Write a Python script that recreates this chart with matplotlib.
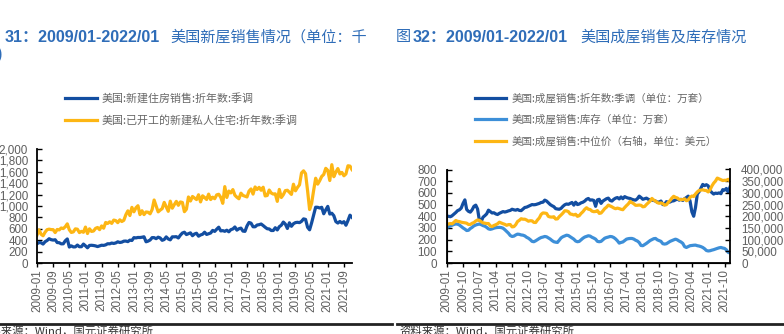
import numpy as np
import pandas as pd
import matplotlib
matplotlib.use("Agg")
import matplotlib.pyplot as plt
from matplotlib.ticker import FuncFormatter, MultipleLocator

plt.rcParams['font.family'] = ['Liberation Sans', 'Noto Sans CJK SC', 'DejaVu Sans']

# monthly, 2009-01 .. 2022-01
months = pd.date_range('2009-01-01', periods=157, freq='MS').strftime('%Y-%m')

# 美国新建住房销售 (千套, 折年数, 季调)
new_home_sales = [
    338, 358, 356, 332, 373, 395, 426, 409, 402, 408, 359, 356,
    336, 337, 389, 422, 280, 300, 282, 283, 315, 285, 286, 332,
    301, 267, 308, 311, 307, 300, 288, 300, 312, 309, 318, 338,
    336, 350, 343, 352, 372, 360, 366, 383, 385, 375, 401, 395,
    445, 440, 448, 447, 452, 460, 372, 384, 403, 445, 445, 427,
    453, 439, 398, 412, 458, 422, 406, 459, 459, 462, 439, 488,
    526, 540, 499, 513, 529, 479, 509, 522, 470, 492, 504, 540,
    501, 514, 526, 572, 554, 593, 628, 563, 568, 556, 575, 547,
    585, 597, 632, 577, 601, 612, 560, 555, 650, 711, 699, 636,
    635, 666, 672, 684, 657, 627, 601, 597, 570, 570, 619, 580,
    637, 663, 718, 682, 606, 706, 644, 689, 709, 714, 708, 731,
    774, 765, 627, 582, 704, 839, 979, 977, 965, 977, 864, 932,
    993, 859, 873, 830, 726, 701, 729, 702, 725, 662, 745, 839,
    801,
]

# 美国已开工的新建私人住宅 (千套, 折年数, 季调)
housing_starts = [
    490, 582, 505, 478, 540, 585, 594, 586, 585, 534, 588, 581,
    614, 604, 636, 687, 583, 536, 546, 599, 593, 534, 555, 539,
    630, 517, 600, 554, 561, 608, 623, 585, 650, 610, 711, 694,
    723, 695, 753, 744, 708, 757, 728, 749, 847, 915, 833, 976,
    898, 969, 1005, 849, 917, 849, 895, 891, 863, 936, 1105, 1003,
    897, 928, 954, 1063, 985, 907, 1085, 962, 1024, 1081, 1012, 1071,
    1062, 900, 944, 1158, 1087, 1167, 1140, 1113, 1197, 1072, 1179, 1149,
    1114, 1208, 1113, 1155, 1128, 1195, 1206, 1151, 1047, 1340, 1150, 1262,
    1230, 1288, 1189, 1154, 1127, 1225, 1185, 1172, 1159, 1261, 1299, 1209,
    1334, 1290, 1327, 1276, 1329, 1177, 1184, 1280, 1228, 1209, 1214, 1081,
    1291, 1149, 1199, 1270, 1276, 1241, 1203, 1382, 1267, 1326, 1371, 1580,
    1617, 1567, 1269, 938, 1046, 1273, 1487, 1383, 1444, 1519, 1553, 1661,
    1625, 1447, 1725, 1514, 1594, 1657, 1562, 1589, 1530, 1563, 1706, 1700,
    1638,
]

# 美国成屋销售 (万套, 折年数, 季调)
existing_sales = [
    397, 400, 396, 405, 418, 432, 448, 455, 470, 510, 540, 458,
    442, 435, 455, 485, 495, 462, 365, 355, 392, 405, 420, 452,
    440, 428, 430, 420, 415, 425, 432, 440, 436, 440, 446, 450,
    460, 455, 452, 458, 450, 448, 462, 475, 478, 485, 492, 500,
    498, 500, 505, 510, 518, 520, 538, 530, 515, 500, 490, 482,
    465, 462, 460, 468, 485, 498, 505, 502, 510, 518, 495, 520,
    500, 505, 515, 520, 530, 545, 552, 538, 540, 535, 485, 540,
    545, 510, 530, 540, 550, 555, 535, 530, 545, 555, 560, 548,
    565, 550, 568, 560, 555, 552, 545, 540, 538, 550, 572, 560,
    545, 550, 555, 545, 540, 538, 535, 530, 520, 522, 530, 500,
    500, 525, 520, 522, 530, 532, 540, 548, 538, 545, 535, 550,
    560, 572, 530, 438, 400, 475, 590, 610, 640, 672, 662, 670,
    660, 620, 603, 590, 598, 595, 600, 593, 628, 623, 638, 608,
    650,
]

# 美国成屋库存 (万套)
inventory = [
    303, 310, 318, 325, 330, 334, 332, 325, 312, 300, 290, 278,
    280, 295, 305, 318, 325, 330, 333, 328, 320, 315, 305, 292,
    288, 292, 298, 302, 304, 305, 303, 298, 285, 270, 255, 235,
    227, 230, 240, 247, 245, 240, 238, 232, 220, 212, 200, 185,
    182, 190, 200, 210, 218, 222, 227, 224, 215, 205, 192, 182,
    178, 176, 195, 215, 225, 232, 238, 235, 225, 215, 204, 188,
    182, 185, 198, 212, 222, 228, 233, 230, 220, 213, 204, 185,
    182, 185, 198, 212, 218, 222, 227, 225, 218, 206, 190, 170,
    176, 180, 192, 204, 208, 210, 210, 205, 195, 188, 175, 150,
    148, 158, 168, 180, 192, 200, 208, 210, 198, 192, 185, 165,
    162, 165, 175, 185, 192, 198, 204, 198, 188, 180, 168, 140,
    133, 140, 148, 150, 152, 153, 148, 145, 140, 133, 122, 107,
    103, 105, 110, 114, 120, 125, 130, 133, 128, 125, 113, 91,
    86,
]

# 美国成屋销售中位价 (美元)
median_price = [
    164800, 167100, 169000, 167900, 174200, 181800, 178300, 177200, 174600, 173000, 171900, 170300,
    164700, 165000, 170000, 173100, 179600, 184100, 182600, 176800, 171800, 170200, 168800, 168800,
    158800, 156100, 160500, 163700, 167700, 174600, 171100, 168100, 165400, 161300, 164200, 164500,
    154600, 155600, 163800, 177400, 182600, 189400, 187300, 187400, 183900, 178800, 180800, 180300,
    173600, 173300, 184300, 192800, 208000, 214200, 213500, 212100, 199200, 196900, 196300, 197900,
    188100, 188900, 198500, 205700, 213600, 223300, 222900, 219800, 209700, 208300, 205300, 208500,
    199600, 202600, 212100, 219400, 229400, 236400, 230200, 228700, 221900, 219600, 220300, 224100,
    212300, 213800, 222700, 232500, 238900, 247700, 244100, 240200, 235500, 232200, 234900, 232600,
    229800, 228000, 237300, 245500, 252800, 263800, 258300, 253500, 246800, 247000, 248000, 246800,
    240500, 241700, 250400, 257900, 264800, 276200, 269000, 264800, 258100, 255400, 257200, 253600,
    247500, 249500, 259400, 267300, 277700, 285400, 280800, 278200, 272100, 270900, 271300, 274500,
    266300, 270100, 280700, 286500, 284400, 295300, 304100, 310600, 311800, 313000, 310800, 309800,
    303900, 313000, 329100, 341600, 350300, 363300, 359900, 356700, 352800, 353900, 353900, 358000,
    350300,
]

DARK_BLUE = '#134ea1'
LIGHT_BLUE = '#3d8fd8'
YELLOW = '#fdb614'
TICK_GRAY = '#5f5f5f'
TITLE_BLUE = '#2f6db8'
CJK = ['Noto Sans CJK SC', 'DejaVu Sans']

W, H = 784, 334
fig = plt.figure(figsize=(W / 100, H / 100), dpi=100)


def box(x0, y_top, x1, y_bottom):
    return [x0 / W, 1 - y_bottom / H, (x1 - x0) / W, (y_bottom - y_top) / H]


def fy(y):
    return 1 - y / H


comma = FuncFormatter(lambda v, _: f'{v:,.0f}')
x = np.arange(len(months))


def style_axis(ax, step, ypad):
    ax.set_xlim(0, len(months) - 1)
    ax.set_xticks(x[::step])
    ax.set_xticklabels(months[::step], rotation=90)
    ax.tick_params(axis='x', direction='out', length=3, width=1, pad=1.5,
                   labelsize=8.4, labelcolor=TICK_GRAY)
    ax.tick_params(axis='y', direction='in', length=3.5, width=1, pad=ypad,
                   labelsize=8.4, labelcolor=TICK_GRAY)
    ax.spines['top'].set_visible(False)
    ax.spines['right'].set_visible(False)
    for s in ('left', 'bottom'):
        ax.spines[s].set_linewidth(1.3)
    ax.yaxis.set_major_formatter(comma)


# left: new home sales and housing starts
ax1 = fig.add_axes(box(37, 149, 352, 263))
ax1.plot(x, new_home_sales, color=DARK_BLUE, lw=2.3, label='美国:新建住房销售:折年数:季调')
ax1.plot(x, housing_starts, color=YELLOW, lw=2.3, label='美国:已开工的新建私人住宅:折年数:季调')
ax1.set_ylim(0, 2000)
ax1.yaxis.set_major_locator(MultipleLocator(200))
style_axis(ax1, 8, 6.5)
ax1.legend(loc='upper left', bbox_to_anchor=(65 / W, fy(93)), bbox_transform=fig.transFigure,
           frameon=False, prop={'family': CJK, 'size': 7.9}, labelcolor='#666666',
           handlelength=2.9, handletextpad=0.4, labelspacing=1.0,
           borderpad=0, borderaxespad=0)

# right: existing home sales, inventory and median price
ax2 = fig.add_axes(box(446.7, 169.5, 730, 263))
ax2.plot(x, existing_sales, color=DARK_BLUE, lw=2.3, label='美国:成屋销售:折年数:季调（单位：万套）')
ax2.plot(x, inventory, color=LIGHT_BLUE, lw=2.3, label='美国:成屋销售:库存（单位：万套）')
ax2.set_ylim(0, 800)
ax2.yaxis.set_major_locator(MultipleLocator(100))
style_axis(ax2, 9, 7)

ax3 = ax2.twinx()
ax3.plot(x, median_price, color=YELLOW, lw=2.3, label='美国:成屋销售:中位价（右轴，单位：美元）')
ax3.set_ylim(0, 400000)
ax3.yaxis.set_major_locator(MultipleLocator(50000))
ax3.yaxis.set_major_formatter(comma)
ax3.tick_params(axis='y', direction='in', length=3.5, width=1, pad=8,
                labelsize=8.4, labelcolor=TICK_GRAY)
ax3.spines['top'].set_visible(False)
ax3.spines['right'].set_linewidth(1.3)

h2, l2 = ax2.get_legend_handles_labels()
h3, l3 = ax3.get_legend_handles_labels()
ax3.legend(h2 + h3, l2 + l3, loc='upper left', bbox_to_anchor=(475 / W, fy(93)),
           bbox_transform=fig.transFigure, frameon=False,
           prop={'family': CJK, 'size': 7.6}, labelcolor='#666666',
           handlelength=2.9, handletextpad=0.55, labelspacing=1.05,
           borderpad=0, borderaxespad=0)

# titles
num_kw = dict(fontsize=11.6, color=TITLE_BLUE, va='center', fontweight='bold')
cjk_kw = dict(fontsize=10.9, color=TITLE_BLUE, va='center', family=CJK)
fig.text(-17 / W, fy(37), '图', **cjk_kw)
fig.text(5 / W, fy(37), '31：2009/01-2022/01', **num_kw)
fig.text(170 / W, fy(37), '美国新屋销售情况（单位：千', **cjk_kw)
fig.text(-3 / W, fy(55), ')', **num_kw)
fig.text(396 / W, fy(37), '图', **cjk_kw)
fig.text(413 / W, fy(37), '32：2009/01-2022/01', **num_kw)
fig.text(580 / W, fy(37), '美国成屋销售及库存情况', **cjk_kw)

# source rule and notes
fig.add_artist(plt.Line2D([0, 392 / W], [fy(324), fy(324)], color='#222222', lw=2))
fig.add_artist(plt.Line2D([397 / W, 1], [fy(324), fy(324)], color='#222222', lw=2))
src_kw = dict(fontsize=8.2, color='#333333', va='top', family=CJK)
fig.text(-22 / W, fy(325.5), '资料来源：Wind，国元证券研究所', **src_kw)
fig.text(399 / W, fy(325.5), '资料来源：Wind，国元证券研究所', **src_kw)

fig.savefig('out.png', dpi=100)
